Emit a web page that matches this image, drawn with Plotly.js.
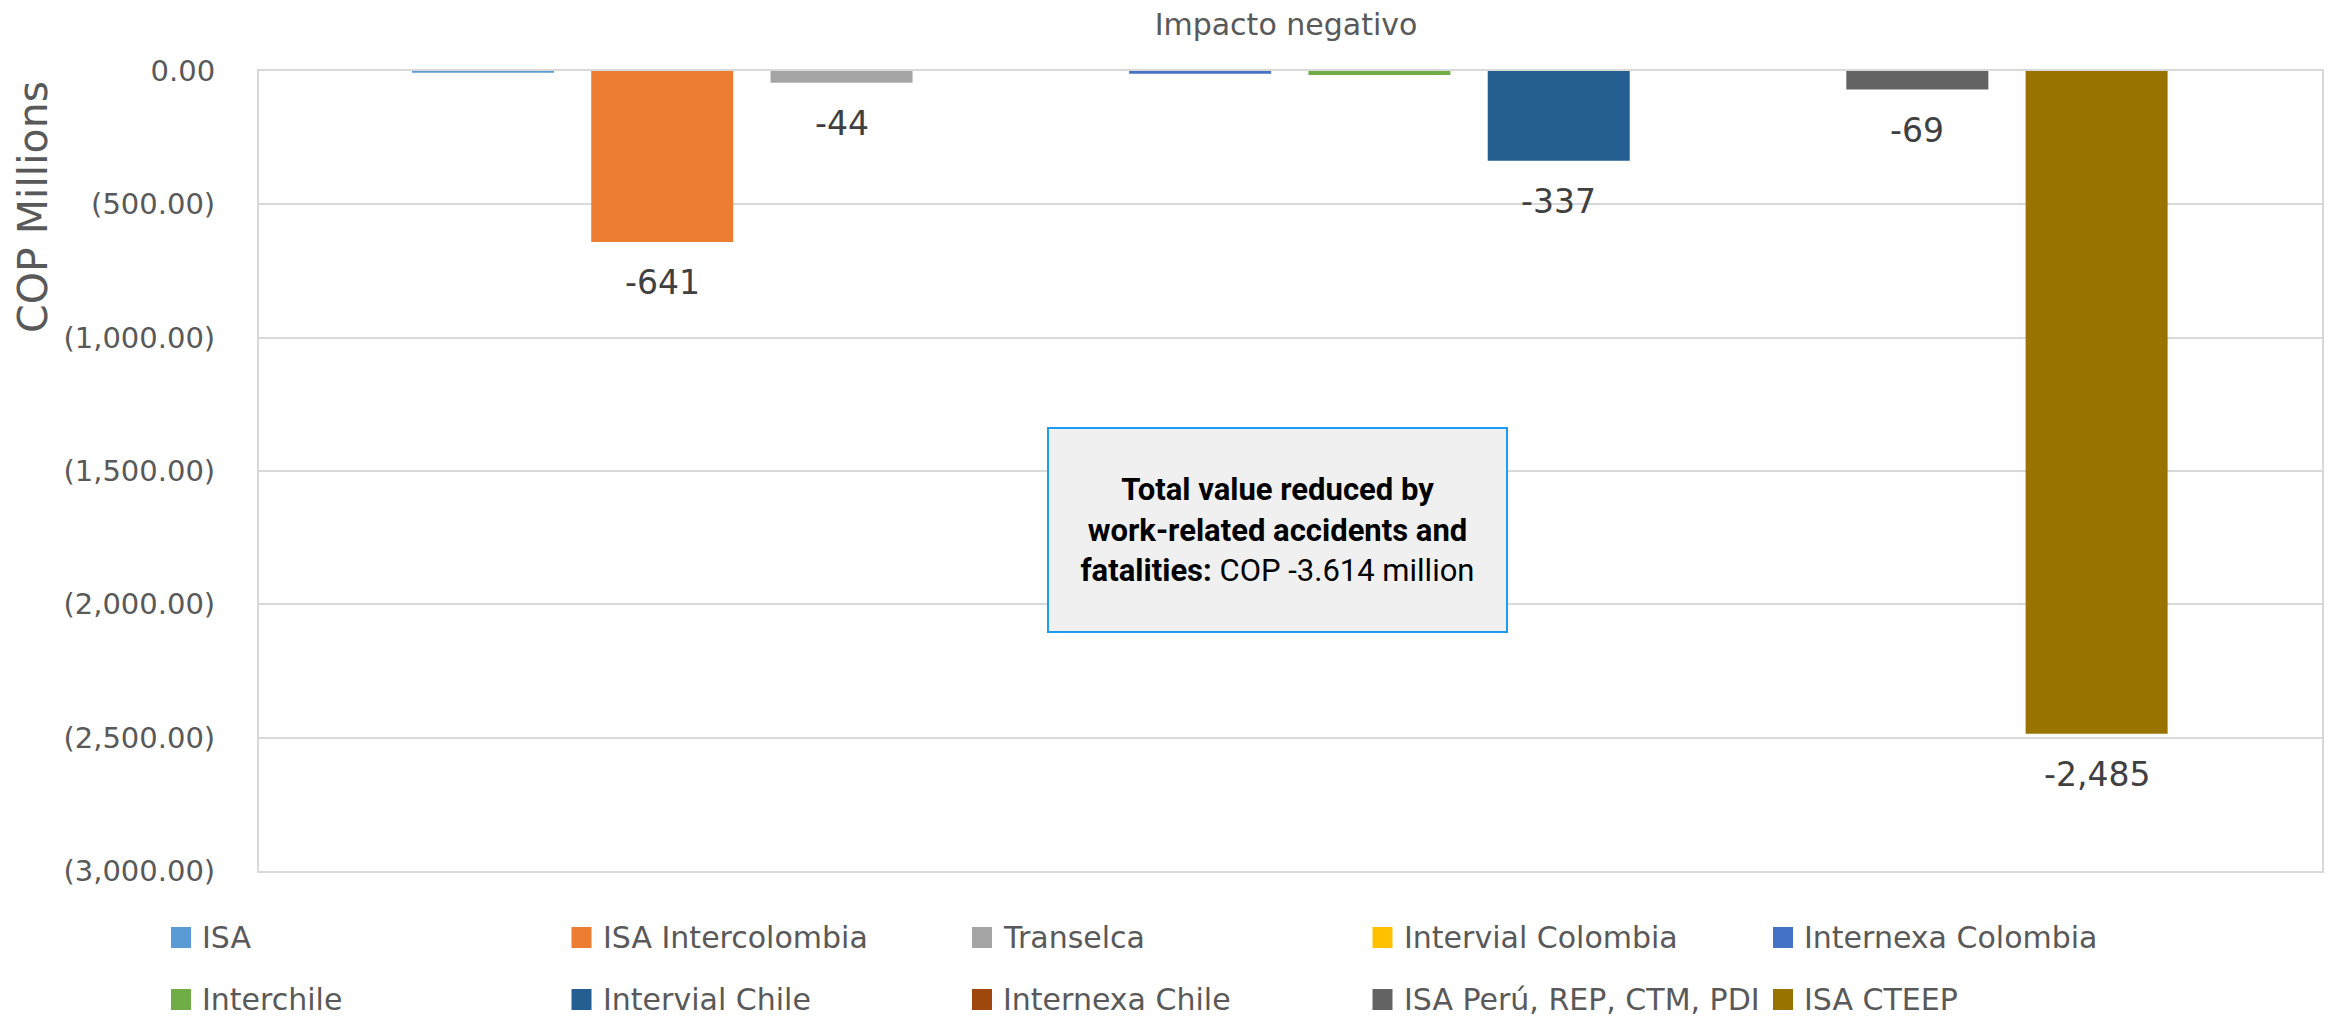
<!DOCTYPE html>
<html>
<head>
<meta charset="utf-8">
<script src="https://cdn.plot.ly/plotly-3.0.1.min.js"></script>
<style>
  html, body { margin: 0; padding: 0; background: #ffffff; }
  #chart { width: 2330px; height: 1016px; }
</style>
</head>
<body>
<div id="chart"></div>
<script>
// ---- Data ----
const seriesNames = ['ISA', 'ISA Intercolombia', 'Transelca', 'Intervial Colombia', 'Internexa Colombia',
                     'Interchile', 'Intervial Chile', 'Internexa Chile', 'ISA Perú, REP, CTM, PDI', 'ISA CTEEP'];
const seriesValues = [-7, -641, -44, 0, -10, -15, -337, 0, -69, -2485];
const showValueLabel = [false, true, true, false, false, false, true, false, true, true];
const seriesColors = ['#5B9BD5', '#ED7D31', '#A5A5A5', '#FFC000', '#4472C4',
                      '#70AD47', '#255E91', '#9E480E', '#636363', '#997300'];
const yTickValues = [0, -500, -1000, -1500, -2000, -2500, -3000];
const yTickLabels = ['0.00', '(500.00)', '(1,000.00)', '(1,500.00)', '(2,000.00)', '(2,500.00)', '(3,000.00)'];
const chartTitle = 'Impacto negativo';
const yAxisTitle = 'COP Millions';
const boxText = '<b>Total value reduced by<br>work-related accidents and<br>fatalities:</b> COP -3.614 million';

// ---- Layout geometry (pixels) ----
const W = 2330, H = 1016;
const M = { l: 259, r: 8, t: 71, b: 145 };
const PW = W - M.l - M.r, PH = H - M.t - M.b;
const px2x = (px) => (px - M.l) / PW;
const px2y = (py) => (H - M.b - py) / PH;

const FONT = 'DejaVu Sans, Verdana, sans-serif';
const GREY = '#595959';

const traces = seriesNames.map((name, i) => ({
  type: 'bar',
  name: name,
  x: [i],
  y: [seriesValues[i]],
  width: 0.792,
  marker: { color: seriesColors[i] },
  showlegend: false,
  hoverinfo: 'name+y'
}));

const annotations = [];
// value labels below bars
seriesValues.forEach((v, i) => {
  if (!showValueLabel[i]) return;
  annotations.push({
    x: i, y: v, xref: 'x', yref: 'y',
    text: v.toLocaleString('en-US'),
    showarrow: false, xanchor: 'center', yanchor: 'middle', yshift: -41,
    font: { family: FONT, size: 33, color: '#404040' }
  });
});
// y axis title
annotations.push({
  x: px2x(33), y: px2y(207), xref: 'paper', yref: 'paper',
  text: yAxisTitle, textangle: -90, showarrow: false,
  xanchor: 'center', yanchor: 'middle',
  font: { family: FONT, size: 41, color: GREY }
});
// info box
annotations.push({
  x: px2x(1277.5), y: px2y(530), xref: 'paper', yref: 'paper',
  text: boxText, showarrow: false, xanchor: 'center', yanchor: 'middle',
  width: 457, height: 202, align: 'center', valign: 'middle',
  bgcolor: '#F0F0F0', bordercolor: '#1F9CF0', borderwidth: 2, borderpad: 0,
  font: { family: 'Roboto, Arial, sans-serif', size: 31, color: '#000000' }
});

// custom legend (2 rows x 5 columns)
const shapes = [];
seriesNames.forEach((name, i) => {
  const col = i % 5, row = Math.floor(i / 5);
  const mx = 171 + col * 400.5;
  const my = 927 + row * 62;
  shapes.push({
    type: 'rect', xref: 'paper', yref: 'paper',
    x0: px2x(mx), x1: px2x(mx + 20), y0: px2y(my + 21), y1: px2y(my),
    fillcolor: seriesColors[i], line: { width: 0 }
  });
  annotations.push({
    x: px2x(mx + 29), y: px2y(my + 10.5), xref: 'paper', yref: 'paper',
    text: name, showarrow: false, xanchor: 'left', yanchor: 'middle',
    font: { family: FONT, size: 30, color: GREY }
  });
});

const layout = {
  width: W, height: H,
  margin: M,
  paper_bgcolor: '#ffffff', plot_bgcolor: '#ffffff',
  barmode: 'overlay',
  title: {
    text: chartTitle, x: 1286 / W, xanchor: 'center', xref: 'container',
    y: 1 - 24 / H, yanchor: 'middle', yref: 'container',
    font: { family: FONT, size: 30, color: GREY }
  },
  xaxis: {
    range: [-1.249, 10.257], showticklabels: false, showgrid: false, zeroline: false,
    showline: true, linecolor: '#D9D9D9', linewidth: 2, mirror: true, fixedrange: true
  },
  yaxis: {
    range: [-3000, 0], tickvals: yTickValues, ticktext: yTickLabels,
    showgrid: true, gridcolor: '#D9D9D9', gridwidth: 2, zeroline: false,
    showline: true, linecolor: '#D9D9D9', linewidth: 2, mirror: true,
    ticks: '', ticklabelstandoff: 36,
    tickfont: { family: FONT, size: 29, color: GREY }, fixedrange: true
  },
  annotations: annotations,
  shapes: shapes,
  showlegend: false
};

Plotly.newPlot('chart', traces, layout, { displayModeBar: false, staticPlot: true });
</script>
</body>
</html>
